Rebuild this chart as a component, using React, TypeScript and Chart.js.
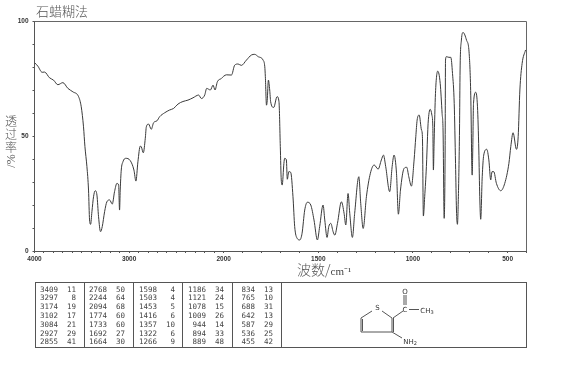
import React, { useEffect, useRef } from "react";
import { Chart, registerables, LinearScale } from "chart.js";

const wavenumbers = [4000,3965,3919,3894,3841,3799,3753,3700,3647,3594,3534,3506,3482,3467,3446,3429,3418,3407,3393,3376,3358,3340,3323,3302,3284,3259,3235,3206,3178,3154,3129,3111,3101,3094,3083,3065,3037,2988,2949,2928,2907,2882,2871,2850,2829,2818,2794,2766,2741,2706,2677,2624,2572,2529,2483,2431,2378,2325,2265,2236,2201,2180,2141,2113,2092,2067,2025,2000,1986,1959,1942,1924,1907,1880,1854,1836,1818,1792,1783,1780,1774,1770,1764,1757,1752,1736,1718,1708,1701,1696,1691,1682,1678,1669,1664,1656,1646,1634,1625,1612,1598,1586,1572,1558,1540,1523,1505,1493,1475,1466,1454,1445,1434,1422,1413,1399,1378,1364,1355,1343,1334,1320,1308,1286,1276,1263,1246,1225,1205,1184,1167,1156,1144,1123,1110,1100,1087,1077,1066,1047,1033,1022,1008,994,985,978,967,955,950,945,938,929,923,920,909,900,895,892,888,881,869,856,846,841,835,830,828,823,810,800,791,782,775,770,765,760,754,751,744,735,717,703,694,689,687,684,680,668,659,652,647,642,634,626,610,599,589,582,573,559,536,515,493,483,471,453,444,435,423,405];
const transmittance = [81.9,80.4,77.7,77.8,75.3,74.3,72.3,73.2,70.7,69.2,67.1,62.7,54,45.4,36.7,26.5,13.5,11.6,17.1,23.6,26.2,24.3,14.9,8.4,10.6,17.1,21.4,22.2,20.4,25.8,29.4,28.7,17.8,26.5,35.2,38.8,40.3,39.3,35.2,30.4,38.8,45.6,45.3,42.7,49,54,55.2,52.9,55.8,56.6,58.4,60.1,61.3,62,63.9,65,65.6,66.6,67.8,66.3,67.8,70.7,70,72.1,70,73.6,75,76,76.6,76.5,80.8,81.3,80.7,83,85.2,85.5,84.5,83,80.1,75.8,63.4,65.5,74.3,70,64.9,62.4,67.1,64.9,45.4,30.9,28.7,38.1,40.3,39.6,31.2,34.5,34.2,23.6,10.6,5.5,4.8,7.7,17.8,21.2,20,13.5,4.8,10.6,20,13.5,5.9,10.6,12,8.4,6.9,12,21.4,16.4,11.3,25,16.4,5.9,16.4,32.3,20.7,9.8,23.6,33.8,37.4,35.6,39.6,41.7,36.7,25.8,36.7,41.7,33.8,16,26.5,35.9,36.4,32.3,28.2,39.6,49.7,56.9,59.1,52.6,49.7,15.2,23.6,36.7,49.7,55.5,61.6,59.1,54,35.2,48.2,68.5,78.2,72.9,59.8,52.6,14.2,43.9,83,84.5,84.2,84.2,77.2,64.2,38,17.8,11.6,23.6,52.6,78.7,91.7,95,91.7,85.9,65.6,36.7,33,43.9,64.2,69,62.7,43.9,23.6,13.8,32.3,41.7,44.2,39.6,30.9,34.5,34.5,29.4,26.2,29.4,38.1,45.4,51.4,44.2,49.7,70,81.6,87.4];

const xTicks = [4000,3900,3800,3700,3600,3500,3400,3300,3200,3100,3000,2900,2800,2700,2600,2500,2400,2300,2200,2100,2000,1900,1800,1700,1600,1500,1400,1300,1200,1100,1000,900,800,700,600,500,400];
const xLabels = [4000,3000,2000,1500,1000,500];
const yTicks = [0,10,20,30,40,50,60,70,80,90,100];
const yLabels = [0,50,100];

const chartTitle = "石蜡糊法";
const xTitleCjk = "波数/";
const xTitleUnit = "cm⁻¹";
const yTitleUpright = ["透", "过", "率"];
const yTitleTurned = "/%";

const peakColumns: [string, string][][] = [
  [["3409","11"],["3297","8"],["3174","19"],["3102","17"],["3084","21"],["2927","29"],["2855","41"]],
  [["2768","50"],["2244","64"],["2094","68"],["1774","60"],["1733","60"],["1692","27"],["1664","30"]],
  [["1598","4"],["1503","4"],["1453","5"],["1416","6"],["1357","10"],["1322","6"],["1266","9"]],
  [["1186","34"],["1121","24"],["1078","15"],["1009","26"],["944","14"],["894","33"],["889","48"]],
  [["834","13"],["765","10"],["688","31"],["642","13"],["587","29"],["536","25"],["455","42"]],
];

// The spectrometer's axis doubles its scale below 2000 cm-1.
class SpectrumScale extends LinearScale {
  static id = "spectrum";
  static defaults = LinearScale.defaults;
  private frac(v: number) {
    return v >= 2000 ? ((4000 - v) / 2000) * 0.3846 : 0.3846 + ((2000 - v) / 1600) * 0.6154;
  }
  getPixelForValue(v: number) {
    return this.left + this.frac(v) * this.width;
  }
  getPixelForTick(i: number) {
    return this.getPixelForValue(this.ticks[i].value);
  }
}
Chart.register(...registerables, SpectrumScale);

const tableCols = [34.5, 84, 133, 182, 232, 281];
const wnRight = [58, 107, 157, 206, 255];
const valRight = [76, 125, 175, 224, 273];
const boxLine = "1px solid #555";
const tickFont = { family: "Liberation Sans", size: 6.5, weight: "bold" as const };

export default function App() {
  const ref = useRef<HTMLCanvasElement>(null);
  useEffect(() => {
    document.body.style.margin = "0";
    const chart = new Chart(ref.current!, {
      type: "line",
      data: {
        datasets: [{
          data: wavenumbers.map((x, i) => ({ x, y: transmittance[i] })),
          borderColor: "#3a3a3a",
          borderWidth: 1,
          pointRadius: 0,
          cubicInterpolationMode: "monotone",
          fill: false,
        }],
      },
      options: {
        responsive: false,
        animation: false,
        events: [],
        layout: { padding: { left: 0, top: 21, right: 43.5, bottom: 0 } },
        plugins: { legend: { display: false }, tooltip: { enabled: false } },
        scales: {
          x: {
            type: "spectrum" as any,
            min: 400,
            max: 4000,
            afterFit(s: any) { s.height = 366 - 251; },
            afterBuildTicks(s: any) { s.ticks = xTicks.map((value) => ({ value, major: xLabels.includes(value) })); },
            border: { color: "#555", width: 1 },
            grid: { drawOnChartArea: false, drawTicks: true, tickLength: 2, tickColor: "#555" },
            ticks: {
              autoSkip: false,
              maxRotation: 0,
              padding: 2,
              color: "#333",
              font: tickFont,
              callback: (v: any) => (xLabels.includes(Number(v)) ? String(v) : ""),
            },
          },
          y: {
            min: 0,
            max: 100,
            afterFit(s: any) { s.width = 34.5; },
            afterBuildTicks(s: any) { s.ticks = yTicks.map((value) => ({ value })); },
            border: { color: "#555", width: 1 },
            grid: { drawOnChartArea: false, drawTicks: true, tickLength: 2, tickColor: "#555" },
            ticks: {
              autoSkip: false,
              padding: 4,
              color: "#333",
              font: tickFont,
              callback: (v: any) => (yLabels.includes(Number(v)) ? String(v) : ""),
            },
          },
        },
      },
      plugins: [{
        id: "frame",
        afterDraw(c: any) {
          const { ctx, chartArea: a } = c;
          ctx.save();
          ctx.strokeStyle = "#666";
          ctx.lineWidth = 1;
          ctx.beginPath();
          ctx.moveTo(a.left, Math.round(a.top) + 0.5);
          ctx.lineTo(a.right, Math.round(a.top) + 0.5);
          ctx.lineTo(a.right, a.bottom);
          ctx.stroke();
          ctx.restore();
        },
      }],
    } as any);
    return () => chart.destroy();
  }, []);

  const abs = (left: number, top: number, extra: React.CSSProperties = {}): React.CSSProperties => ({
    position: "absolute", left, top, lineHeight: 1, whiteSpace: "nowrap", ...extra,
  });
  const cjk = '"Noto Sans CJK SC", sans-serif';

  return (
    <div style={{ position: "relative", width: 570, height: 366, background: "#fff", overflow: "hidden" }}>
      <canvas ref={ref} width={570} height={366} style={{ position: "absolute", left: 0, top: 0, display: "block" }} />
      <div style={abs(36, 4, { fontFamily: cjk, fontSize: 13, color: "#555", fontWeight: 300 })}>{chartTitle}</div>
      <div style={abs(297, 262, { fontFamily: cjk, fontSize: 14, color: "#555", fontWeight: 300 })}>
        {xTitleCjk}<span style={{ fontFamily: "Liberation Serif", fontSize: 11, color: "#444" }}>{xTitleUnit}</span>
      </div>
      {yTitleUpright.map((ch, i) => (
        <div key={ch} style={abs(5, 114.5 + i * 13, { fontFamily: cjk, fontSize: 12, color: "#555", fontWeight: 300 })}>{ch}</div>
      ))}
      <div style={abs(11, 161, { fontFamily: "Liberation Serif", fontSize: 12, color: "#555", transform: "translate(-50%,-50%) rotate(-90deg)" })}>{yTitleTurned}</div>

      <div style={abs(tableCols[0], 282, { width: 527 - tableCols[0], height: 66, border: boxLine, boxSizing: "border-box" })} />
      {tableCols.slice(1).map((x) => (
        <div key={x} style={abs(x, 282, { width: 1, height: 66, background: "#555" })} />
      ))}
      {peakColumns.map((col, c) => col.map(([wn, val], r) => (
        <React.Fragment key={c + "-" + r}>
          <span style={abs(wnRight[c] - 30, 285.5 + r * 8.8, { width: 30, textAlign: "right", fontFamily: "DejaVu Sans Mono", fontSize: 7.5, color: "#444" })}>{wn}</span>
          <span style={abs(valRight[c] - 20, 285.5 + r * 8.8, { width: 20, textAlign: "right", fontFamily: "DejaVu Sans Mono", fontSize: 7.5, color: "#444" })}>{val}</span>
        </React.Fragment>
      )))}

      <svg width={570} height={366} style={{ position: "absolute", left: 0, top: 0 }}>
        <g stroke="#555" strokeWidth={1} fill="none">
          <line x1={372} y1={311} x2={361} y2={318} />
          <line x1={361} y1={318} x2={361} y2={332} />
          <line x1={362.5} y1={319} x2={362.5} y2={331} />
          <line x1={361} y1={332} x2={392} y2={332} />
          <line x1={392} y1={332} x2={392} y2={318} />
          <line x1={393.5} y1={332} x2={393.5} y2={318} />
          <line x1={392} y1={318} x2={382} y2={311} />
          <line x1={393} y1={318} x2={403} y2={311} />
          <line x1={404} y1={305} x2={404} y2={295} />
          <line x1={406} y1={305} x2={406} y2={295} />
          <line x1={409} y1={309.5} x2={419} y2={309.5} />
          <line x1={392} y1={332} x2={402} y2={338} />
        </g>
        <g fontFamily="DejaVu Sans" fontSize={7} fill="#333" textAnchor="middle">
          <text x={377.5} y={310}>S</text>
          <text x={405} y={312}>C</text>
          <text x={405} y={293.5}>O</text>
          <text x={427} y={312.5}>CH<tspan fontSize={5} dy={1}>3</tspan></text>
          <text x={410} y={344}>NH<tspan fontSize={5} dy={1}>2</tspan></text>
        </g>
      </svg>
    </div>
  );
}
